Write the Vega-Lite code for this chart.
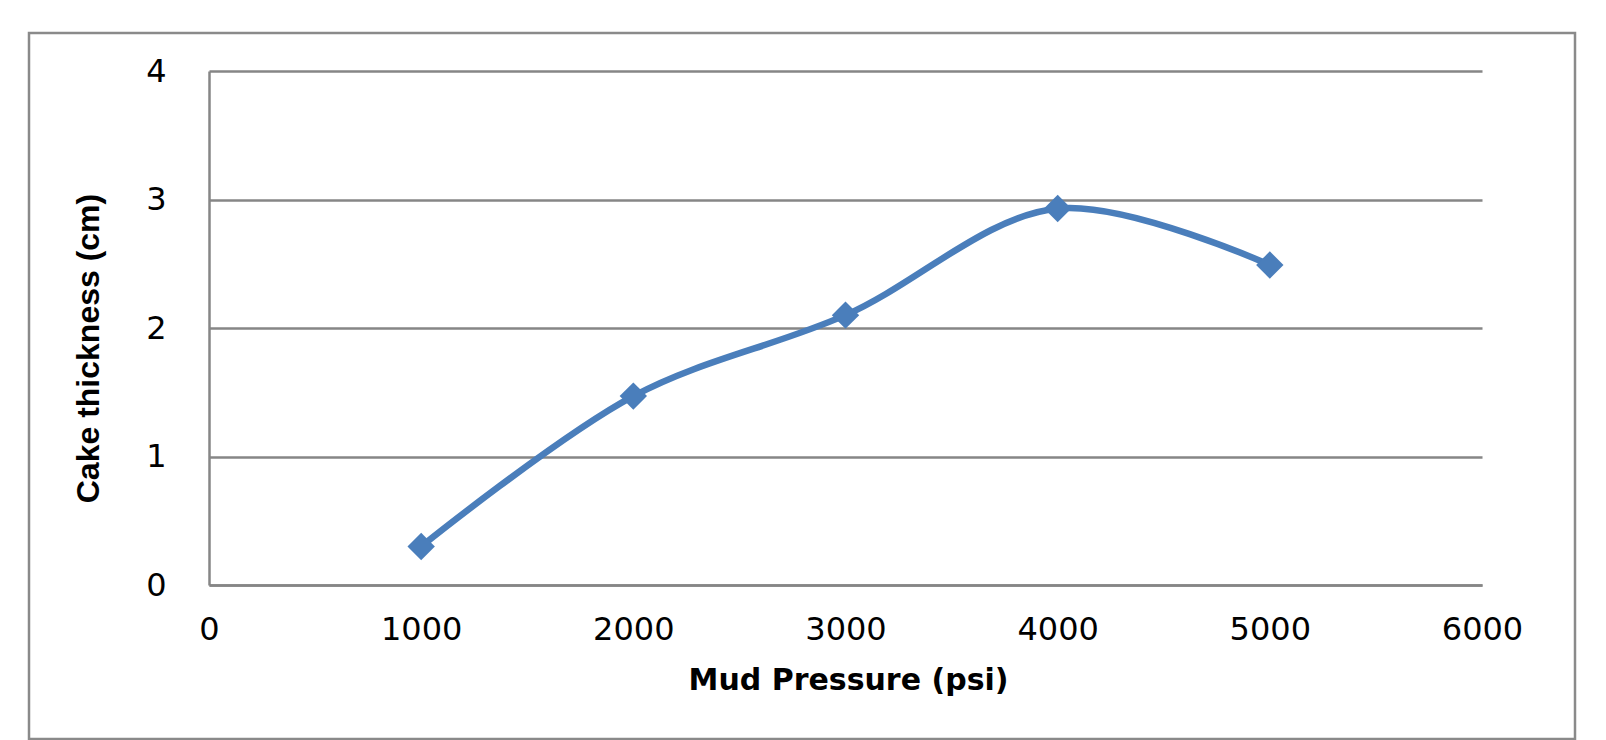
{
  "$schema": "https://vega.github.io/schema/vega-lite/v6.json",
  "width": 1546,
  "height": 706,
  "autosize": {"type": "none"},
  "padding": {"left": 29, "top": 33, "right": 31, "bottom": 1},
  "background": "white",
  "config": {
    "view": {"stroke": "#8a8a8a", "strokeWidth": 2.5},
    "axis": {
      "domainColor": "#868686",
      "domainWidth": 2.5,
      "gridColor": "#868686",
      "gridWidth": 2.5,
      "gridOpacity": 1,
      "ticks": false,
      "labelFont": "DejaVu Sans",
      "labelFontSize": 32,
      "labelColor": "#000000",
      "titleColor": "#000000"
    }
  },
  "data": {
    "values": [
      {"pressure": 1000, "thickness": 0.3},
      {"pressure": 2000, "thickness": 1.47},
      {"pressure": 3000, "thickness": 2.1},
      {"pressure": 4000, "thickness": 2.93},
      {"pressure": 5000, "thickness": 2.49}
    ]
  },
  "encoding": {
    "x": {
      "field": "pressure",
      "type": "quantitative",
      "scale": {"domain": [0, 6000], "range": [180, 1453], "nice": false, "zero": false},
      "axis": {
        "title": "Mud Pressure (psi)",
        "values": [0, 1000, 2000, 3000, 4000, 5000, 6000],
        "format": "d",
        "grid": false,
        "offset": -154,
        "labelPadding": 29,
        "labelFlush": false,
        "labelOverlap": false,
        "titleFont": "DejaVu Sans",
        "titleFontSize": 30,
        "titleFontWeight": "bold",
        "titleX": 819,
        "titleY": 104,
        "titleBaseline": "alphabetic",
        "titleAlign": "center"
      }
    },
    "y": {
      "field": "thickness",
      "type": "quantitative",
      "scale": {"domain": [0, 4], "range": [552, 38], "nice": false, "zero": false},
      "axis": {
        "title": "Cake thickness (cm)",
        "values": [0, 1, 2, 3, 4],
        "grid": true,
        "offset": -180,
        "labelPadding": 43,
        "labelFlush": false,
        "labelOverlap": false,
        "titleFont": "Liberation Sans",
        "titleFontSize": 32,
        "titleFontWeight": "bold",
        "titleX": -121,
        "titleY": 315,
        "titleAngle": 270,
        "titleBaseline": "middle",
        "titleAlign": "center"
      }
    }
  },
  "layer": [
    {
      "mark": {"type": "line", "color": "#4A7EBB", "strokeWidth": 6.5, "interpolate": "catmull-rom", "clip": false}
    },
    {
      "mark": {"type": "point", "shape": "diamond", "filled": true, "color": "#4A7EBB", "size": 750, "opacity": 1}
    }
  ]
}
